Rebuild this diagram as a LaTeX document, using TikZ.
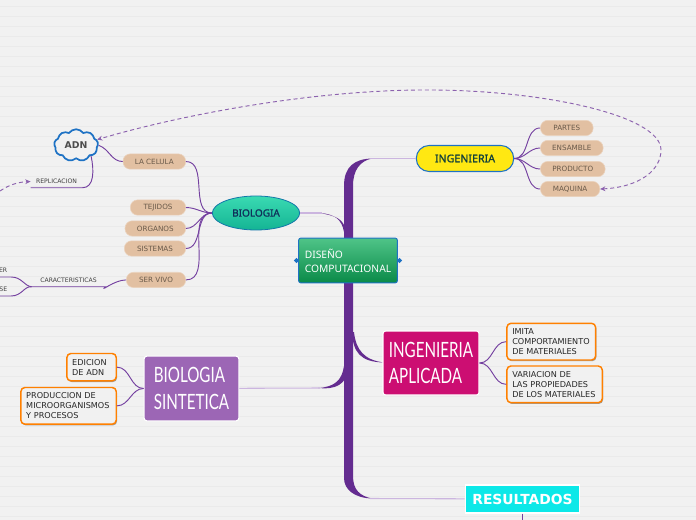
\documentclass[tikz,border=0pt]{standalone}
\usepackage{fontspec}
\setmainfont{DejaVu Sans}
\newfontfamily\titlefont{Noto Sans}
\newfontfamily\titlebold[FakeBold=1.3]{Noto Sans}
\newfontfamily\handfont[FakeStretch=0.72]{Lato}
\usetikzlibrary{arrows.meta,positioning,shapes.geometric,shapes.symbols,shadows}
\definecolor{paper}{HTML}{F1F1F1}
\definecolor{paperline}{HTML}{EAEAEA}
\definecolor{trunkpurple}{HTML}{642C90}
\definecolor{linkpurple}{HTML}{7440A0}
\definecolor{palepurple}{HTML}{CBB5DF}
\definecolor{dashpurple}{HTML}{8C62AE}
\definecolor{pillfill}{HTML}{E2C0A2}
\definecolor{pilltext}{HTML}{6A5A4A}
\definecolor{edgeblue}{HTML}{1E72C4}
\definecolor{boxorange}{HTML}{FF8000}
\definecolor{centertop}{HTML}{4FC488}
\definecolor{centerlow}{HTML}{0A8A48}
\definecolor{biotop}{HTML}{3ADAB2}
\definecolor{biolow}{HTML}{14B494}
\definecolor{applied}{HTML}{CC0E72}
\definecolor{synth}{HTML}{9C66B5}
\definecolor{result}{HTML}{0CE8E8}
\definecolor{engyellow}{HTML}{FFE812}
\definecolor{engtext}{HTML}{12403A}
\definecolor{biotext}{HTML}{10305A}
\tikzset{
  pill/.style={fill=pillfill, draw=pillfill!70!white, line width=.4pt, rounded corners=5.5pt, text=pilltext,
    font=\fontsize{5.4}{6}\selectfont, minimum height=11.5pt, inner sep=0pt},
  notebox/.style={draw=boxorange, fill=paper, line width=1.1pt, rounded corners=3pt, inner xsep=4pt, inner ysep=0pt,
    align=left, text=black!85, font=\fontsize{6.1}{7.6}\selectfont,
    drop shadow={shadow xshift=.6pt, shadow yshift=-.9pt, opacity=.35, fill=black}},
  subtopic/.style={inner sep=0pt, minimum height=9pt, text=black!75, font=\fontsize{4.6}{5}\selectfont},
  link/.style={draw=linkpurple, line width=.7pt},
  palelink/.style={draw=palepurple, line width=.8pt},
  dashlink/.style={draw=dashpurple, line width=.7pt, dash pattern=on 3pt off 2.2pt},
  bigtopic/.style={draw=white, line width=.8pt, rounded corners=2pt, text=white, inner sep=0pt, align=left,
    font=\handfont\fontsize{15.8}{20}\selectfont},
}
\begin{document}
\begin{tikzpicture}[x=.75pt, y=-.75pt, >={Stealth[length=4pt,width=3.6pt]}]
  \useasboundingbox (0,0) rectangle (696,520);
  \fill[paper] (0,0) rectangle (696,520);
  \foreach \ypos in {6.7,16.7,...,520} \draw[paperline, line width=.6pt] (0,\ypos) -- (696,\ypos);

  % trunk and its spurs
  \fill[trunkpurple] (372,158.5) .. controls (355,159) and (344,166) .. (344,186) -- (344,478)
    .. controls (344,490) and (355,498) .. (372,498.5) .. controls (360,496) and (353,490) .. (353,476)
    -- (353,186) .. controls (353,170) and (360,161) .. (372,158.5) -- cycle;
  \fill[trunkpurple] (344,232) .. controls (342,220) and (335,214) .. (320,213) .. controls (335,216) and (344,218) .. (346,232) -- cycle;
  \fill[trunkpurple] (344,366) .. controls (342,380) and (335,387) .. (318,388) .. controls (335,389.5) and (346,386) .. (350,366) -- cycle;
  \fill[trunkpurple] (352,332) .. controls (353,352) and (360,362) .. (384,362.5) .. controls (364,360) and (356,350) .. (354,332) -- cycle;
  \coordinate (spurbio) at (322,213);
  \coordinate (spursin) at (320,388);
  \coordinate (spurtop) at (370,158.5);
  \coordinate (spurres) at (370,498.5);
  \coordinate (spurapl) at (381,362.5);

  \node[draw=edgeblue, line width=.7pt, rounded corners=1.5pt, top color=centertop, bottom color=centerlow,
    minimum width=74pt, minimum height=33.5pt, inner sep=0pt, text=white, align=left, font=\titlefont\fontsize{7.7}{10.6}\selectfont] (diseno) at (348,260.5) {DISEÑO\\COMPUTACIONAL};
  \node[diamond, fill=edgeblue, inner sep=0pt, minimum size=4pt] (leftmark) at (296.5,260.5) {};
  \node[diamond, fill=edgeblue, inner sep=0pt, minimum size=4pt] (rightmark) at (399.5,260.5) {};

  \node[draw=edgeblue, line width=.8pt, fill=engyellow, rounded corners=9.5pt, minimum width=73pt, minimum height=19.5pt, inner sep=0pt,
    text=engtext, font=\titlebold\fontsize{8}{10}\selectfont] (ingenieria) at (465,158.5) {INGENIERIA};
  \node[pill, minimum width=39.5pt, right=19.5pt of ingenieria, yshift=22.9pt] (partes) {PARTES};
  \node[pill, minimum width=47pt, right=19.5pt of ingenieria, yshift=7.9pt] (ensamble) {ENSAMBLE};
  \node[pill, minimum width=48.5pt, right=19.5pt of ingenieria, yshift=-7.9pt] (producto) {PRODUCTO};
  \node[pill, minimum width=44.5pt, right=19.5pt of ingenieria, yshift=-22.9pt] (maquina) {MAQUINA};

  \node[ellipse, draw=edgeblue!60!teal, line width=.6pt, top color=biotop, bottom color=biolow, minimum width=65.5pt, minimum height=25.5pt, inner sep=0pt,
    text=biotext, font=\titlebold\fontsize{7.5}{9}\selectfont] (biologia) at (256,213) {BIOLOGIA};
  \node[pill, minimum width=47pt, left=19.5pt of biologia, yshift=38.6pt] (celula) {LA CELULA};
  \node[pill, minimum width=41.5pt, left=19.5pt of biologia, yshift=4.1pt] (tejidos) {TEJIDOS};
  \node[pill, minimum width=45.5pt, left=19.5pt of biologia, yshift=-11.6pt] (organos) {ORGANOS};
  \node[pill, minimum width=46pt, left=19.5pt of biologia, yshift=-26.6pt] (sistemas) {SISTEMAS};
  \node[pill, minimum width=44.5pt, left=19.5pt of biologia, yshift=-50.2pt] (servivo) {SER VIVO};

  \node[cloud, cloud puffs=9, cloud puff arc=110, aspect=1.5, draw=edgeblue, line width=1.3pt, fill=paper, minimum width=33pt, minimum height=24pt, inner sep=0pt,
    text=black!70, font=\bfseries\fontsize{7}{8}\selectfont, left=18pt of celula, yshift=12.2pt] (adn) {ADN};
  \node[subtopic, minimum width=38.5pt] (replicacion) at (56.5,181.5) {REPLICACION};
  \node[subtopic, minimum width=55pt] (caracteristicas) at (68.5,280.5) {CARACTERISTICAS};
  \node[subtopic, anchor=east] (upperword) at (7.5,270.5) {ER};
  \node[subtopic, anchor=east] (lowerword) at (7.5,289.5) {SE};
  \coordinate (upperend) at (0,277);
  \coordinate (lowerend) at (0,296);
  \coordinate (repend) at (0,191);

  \node[bigtopic, fill=applied, minimum width=72pt, minimum height=48pt] (aplicada) at (431,363) {INGENIERIA\\APLICADA};
  \node[notebox, text width=58.5pt, minimum height=27.5pt, right=20pt of aplicada, yshift=16pt] (imita) {IMITA\\COMPORTAMIENTO\\DE MATERIALES};
  \node[notebox, text width=63.5pt, minimum height=27.5pt, right=20pt of aplicada, yshift=-16pt] (variacion) {VARIACION DE\\LAS PROPIEDADES\\DE LOS MATERIALES};

  \node[bigtopic, fill=synth, minimum width=71pt, minimum height=48.5pt] (sintetica) at (191.5,388.5) {BIOLOGIA\\SINTETICA};
  \node[notebox, text width=29pt, minimum height=20.5pt, left=20pt of sintetica, yshift=16pt] (edicion) {EDICION\\DE ADN};
  \node[notebox, text width=63.5pt, minimum height=27.5pt, left=20pt of sintetica, yshift=-13pt] (produccion) {PRODUCCION DE\\MICROORGANISMOS\\Y PROCESOS};

  \node[fill=result, draw=white, line width=.8pt, minimum width=86pt, minimum height=21pt, inner sep=0pt, text=white,
    font=\bfseries\fontsize{10.4}{12}\selectfont] (resultados) at (522.5,499) {RESULTADOS};
  \coordinate (resend) at (522.5,520);

  \draw[palelink] (spurtop) -- (ingenieria);
  \draw[palelink] (biologia) -- (spurbio);
  \draw[palelink] (sintetica) -- (spursin);
  \draw[palelink] (spurres) -- (resultados);
  \draw[link] (resultados) -- (resend);

  \draw[link] (ingenieria.east) to[out=0, in=180] (partes.west);
  \draw[link] (ingenieria.east) to[out=0, in=180] (ensamble.west);
  \draw[link] (ingenieria.east) to[out=0, in=180] (producto.west);
  \draw[link] (ingenieria.east) to[out=0, in=180] (maquina.west);

  \draw[link] (biologia.west) to[out=180, in=0] (celula.east);
  \draw[link] (biologia.west) to[out=180, in=0] (tejidos.east);
  \draw[link] (biologia.west) to[out=180, in=0] (organos.east);
  \draw[link] (biologia.west) to[out=180, in=0] (sistemas.east);
  \draw[link] (biologia.west) to[out=180, in=0] (servivo.east);

  \draw[link] (celula.west) to[out=180, in=-20] (adn.east);
  \draw[link] (replicacion.south west) -- (replicacion.south east) .. controls +(12,0) and +(3,14) .. (adn.south east);
  \draw[link] (servivo.west) .. controls +(-12,0) and +(-6,6) .. (caracteristicas.south east) -- (caracteristicas.south west)
    .. controls (24,286) and (22,277) .. (11,277) -- (upperend);
  \draw[link] (caracteristicas.south west) .. controls (24,286) and (22,296) .. (11,296) -- (lowerend);

  \draw[link] (aplicada.east) to[out=0, in=180] (imita.west);
  \draw[link] (aplicada.east) to[out=0, in=180] (variacion.west);
  \draw[link] (sintetica.west) to[out=180, in=0] (edicion.east);
  \draw[link] (sintetica.west) to[out=180, in=0] (produccion.east);

  \draw[dashlink, <->] (maquina.east) .. controls (640,187) and (661,170) .. (661,150) .. controls (661,115) and (540,89) .. (420,90)
    .. controls (300,91) and (170,118) .. (adn.15);
  \draw[dashlink, ->] (repend) .. controls (10,184) and (20,182) .. (replicacion.west);
\end{tikzpicture}
\end{document}
